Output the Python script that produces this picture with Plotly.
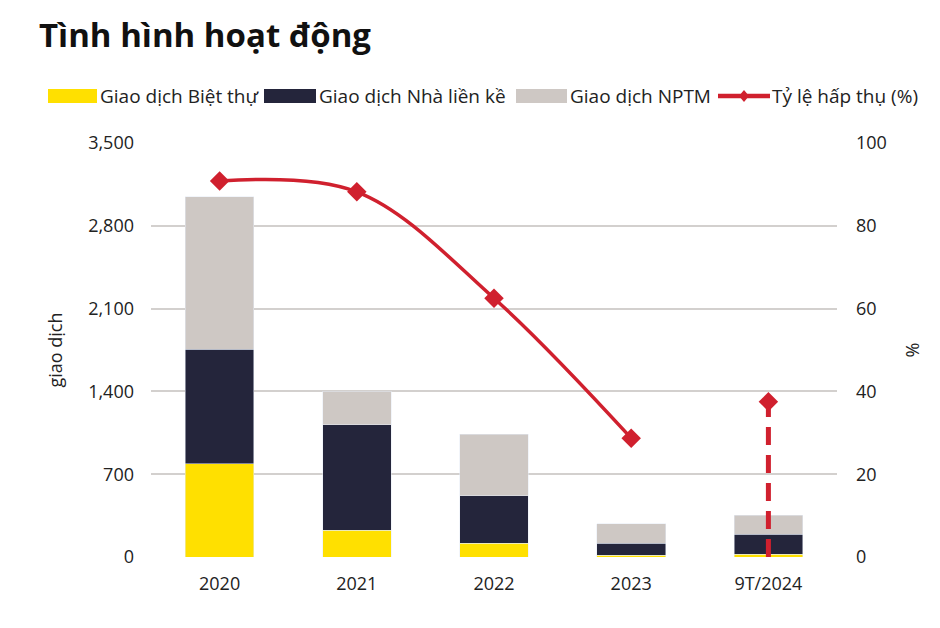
import plotly.graph_objects as go

categories = ["2020", "2021", "2022", "2023", "9T/2024"]
villa = [790, 228, 116, 15, 25]
townhouse = [965, 888, 400, 100, 167]
nptm = [1290, 284, 521, 166, 160]
absorption_years = ["2020", "2021", "2022", "2023"]
absorption = [90.8, 88.2, 62.5, 28.7]
absorption_latest_x = ["9T/2024", "9T/2024"]
absorption_latest = [0, 37.5]

left_ticks = [0, 700, 1400, 2100, 2800, 3500]
right_ticks = [0, 20, 40, 60, 80, 100]

YELLOW = "#FFE000"
NAVY = "#24253B"
GREY = "#CEC8C4"
RED = "#D0202E"
FONT = "Open Sans"

PLOT_T, PLOT_B = 143, 557
PLOT_L, PLOT_R = 151, 837


def py(p):
    return (PLOT_B - p) / (PLOT_B - PLOT_T)


def px(p):
    return (p - PLOT_L) / (PLOT_R - PLOT_L)


fig = go.Figure()
fig.add_bar(x=categories, y=villa, name="Giao dịch Biệt thự", marker_color=YELLOW, showlegend=False)
fig.add_bar(x=categories, y=townhouse, name="Giao dịch Nhà liền kề", marker_color=NAVY, showlegend=False)
fig.add_bar(x=categories, y=nptm, name="Giao dịch NPTM", marker_color=GREY, showlegend=False)
fig.add_scatter(x=absorption_years, y=absorption, yaxis="y2", mode="lines+markers",
                line=dict(color=RED, width=3.5, shape="spline", smoothing=1.0),
                marker=dict(symbol="diamond", size=15, color=RED),
                name="Tỷ lệ hấp thụ (%)", showlegend=False)
fig.add_scatter(x=absorption_latest_x, y=absorption_latest, yaxis="y2", mode="lines",
                line=dict(color=RED, width=5, dash="18px,10px"), showlegend=False)
fig.add_scatter(x=absorption_latest_x[1:], y=absorption_latest[1:], yaxis="y2", mode="markers",
                marker=dict(symbol="diamond", size=15, color=RED), showlegend=False)

# custom legend (wide swatches)
leg_y0, leg_y1, leg_c = 89, 103, 96
LEG_SIZE = 19
legend_items = [
    ("Giao dịch Biệt thự", YELLOW, 48, 97),
    ("Giao dịch Nhà liền kề", NAVY, 264, 316),
    ("Giao dịch NPTM", GREY, 516, 567),
]
shapes = []
annotations = []
for label, col, x0, x1 in legend_items:
    shapes.append(dict(type="rect", xref="paper", yref="paper", x0=px(x0), x1=px(x1),
                       y0=py(leg_y1), y1=py(leg_y0), fillcolor=col, line=dict(width=0)))
    annotations.append(dict(text=label, xref="paper", yref="paper", x=px(x1 + 1), y=py(leg_c),
                            xanchor="left", yanchor="middle", showarrow=False,
                            font=dict(family=FONT, size=LEG_SIZE, color="#222")))
shapes.append(dict(type="line", xref="paper", yref="paper", x0=px(718), x1=px(770),
                   y0=py(leg_c), y1=py(leg_c), line=dict(color=RED, width=4.5)))
dx, dyy = 5, 6
shapes.append(dict(type="path", xref="paper", yref="paper",
                   path=f"M {px(744 - dx)} {py(leg_c)} L {px(744)} {py(leg_c - dyy)} "
                        f"L {px(744 + dx)} {py(leg_c)} L {px(744)} {py(leg_c + dyy)} Z",
                   fillcolor=RED, line=dict(width=0)))
annotations.append(dict(text="Tỷ lệ hấp thụ (%)", xref="paper", yref="paper", x=px(770), y=py(leg_c),
                        xanchor="left", yanchor="middle", showarrow=False,
                        font=dict(family=FONT, size=LEG_SIZE, color="#222")))

annotations.append(dict(text="<b>Tình hình hoạt động</b>", xref="paper", yref="paper",
                        x=px(37), y=py(35), xanchor="left", yanchor="middle", showarrow=False,
                        font=dict(family=FONT, size=33, color="#111")))

fig.update_layout(
    width=940, height=628,
    margin=dict(l=PLOT_L, r=940 - PLOT_R, t=PLOT_T, b=628 - PLOT_B),
    paper_bgcolor="white", plot_bgcolor="white",
    barmode="stack", bargap=0.5,
    font=dict(family=FONT, size=18, color="#222"),
    xaxis=dict(showgrid=False, showline=False, zeroline=False, ticks="",
               ticklabelstandoff=14, tickfont=dict(size=18)),
    yaxis=dict(range=[0, 3500], tickvals=left_ticks, tickformat=",", showgrid=True,
               gridcolor="#D3D0CE", gridwidth=1.5, zeroline=False, showline=False,
               ticklabelstandoff=16, tickfont=dict(size=18),
               title=dict(text="giao dịch", standoff=20, font=dict(size=18))),
    yaxis2=dict(range=[0, 100], tickvals=right_ticks, overlaying="y", side="right",
                showgrid=False, zeroline=False, showline=False, ticklabelstandoff=18,
                tickfont=dict(size=18),
                title=dict(text="%", standoff=20, font=dict(size=18))),
    shapes=shapes, annotations=annotations,
)

fig.write_html("out.html")
